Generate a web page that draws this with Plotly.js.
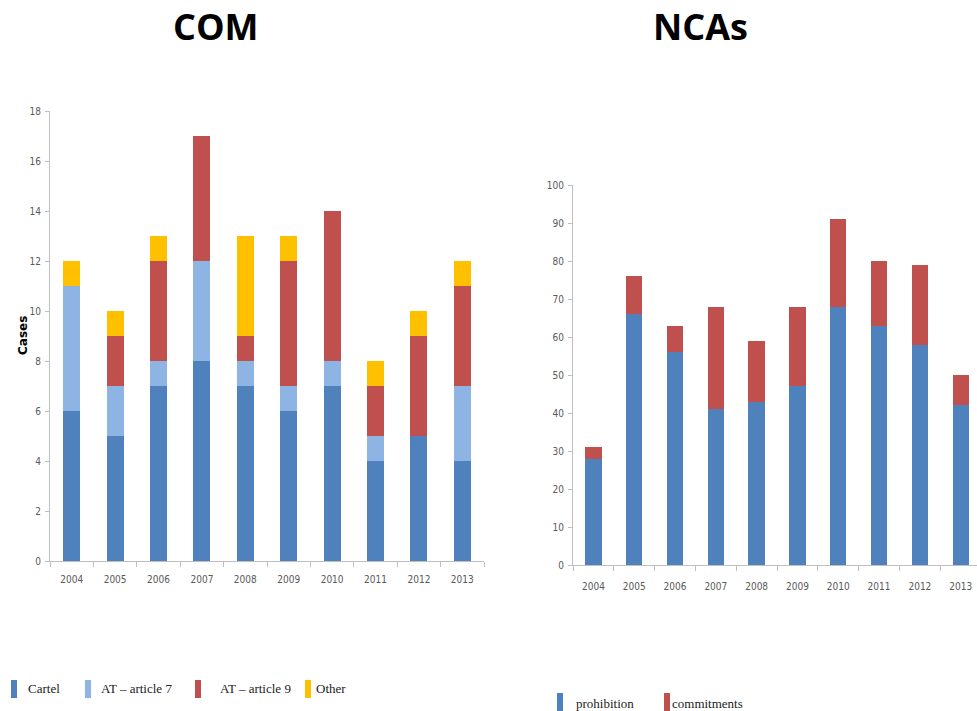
<!DOCTYPE html>
<html>
<head>
<meta charset="utf-8">
<script src="https://cdn.plot.ly/plotly-3.0.1.min.js"></script>
<style>
  html, body { margin: 0; padding: 0; background: #fff; }
  #chart { width: 977px; height: 711px; }
</style>
</head>
<body>
<div id="chart"></div>
<script>
// ---- Data ----
const years = ['2004', '2005', '2006', '2007', '2008', '2009', '2010', '2011', '2012', '2013'];

// COM (European Commission) cases
const comCartel = [6, 5, 7, 8, 7, 6, 7, 4, 5, 4];
const comArticle7 = [5, 2, 1, 4, 1, 1, 1, 1, 0, 3];
const comArticle9 = [0, 2, 4, 5, 1, 5, 6, 2, 4, 4];
const comOther = [1, 1, 1, 0, 4, 1, 0, 1, 1, 1];

// NCAs cases
const ncaProhibition = [28, 66, 56, 41, 43, 47, 68, 63, 58, 42];
const ncaCommitments = [3, 10, 7, 27, 16, 21, 23, 17, 21, 8];

const comTicks = [0, 2, 4, 6, 8, 10, 12, 14, 16, 18];
const ncaTicks = [0, 10, 20, 30, 40, 50, 60, 70, 80, 90, 100];

const comNames = ['Cartel', 'AT \u2013 article 7', 'AT \u2013 article 9', 'Other'];
const ncaNames = ['prohibition', 'commitments'];

// ---- Styling ----
const W = 977, H = 711;
const px = x => x / W;           // pixel -> paper x
const py = y => 1 - y / H;       // pixel -> paper y

const C_BLUE = '#4F81BD';
const C_LIGHT = '#8EB4E3';
const C_RED = '#C0504D';
const C_YELLOW = '#FFC000';

const tickFont = { family: '"Liberation Sans Narrow", "DejaVu Sans Condensed", Arial, sans-serif', size: 10, color: '#595959' };
const axisGrey = '#BFBFBF';

function bar(x, y, name, color, xa, ya, w) {
  return { type: 'bar', x: x, y: y, name: name, xaxis: xa, yaxis: ya,
           marker: { color: color, line: { width: 0 } }, width: w,
           showlegend: false, hoverinfo: 'x+y+name' };
}

const traces = [
  bar(years, comCartel, comNames[0], C_BLUE, 'x', 'y', 0.39),
  bar(years, comArticle7, comNames[1], C_LIGHT, 'x', 'y', 0.39),
  bar(years, comArticle9, comNames[2], C_RED, 'x', 'y', 0.39),
  bar(years, comOther, comNames[3], C_YELLOW, 'x', 'y', 0.39),
  bar(years, ncaProhibition, ncaNames[0], C_BLUE, 'x2', 'y2', 0.40),
  bar(years, ncaCommitments, ncaNames[1], C_RED, 'x2', 'y2', 0.40)
];

function xAxis(domain, range, anchor, standoff) {
  return {
    domain: domain, anchor: anchor, type: 'category', range: range,
    showline: true, linecolor: axisGrey, linewidth: 1,
    showgrid: false, zeroline: false,
    ticks: 'outside', tickson: 'boundaries', ticklen: 5, tickcolor: axisGrey,
    tickfont: tickFont, ticklabelstandoff: standoff, fixedrange: true
  };
}
function yAxis(domain, range, tickvals, anchor) {
  return {
    domain: domain, anchor: anchor, range: range,
    tickvals: tickvals, ticktext: tickvals.map(String),
    showline: true, linecolor: axisGrey, linewidth: 1,
    showgrid: false, zeroline: false,
    ticks: 'outside', ticklen: 4, tickcolor: axisGrey,
    tickfont: tickFont, ticklabelstandoff: 2, fixedrange: true
  };
}

const legendFont = { family: '"Liberation Serif", "Times New Roman", serif', size: 13, color: '#222' };

function swatch(x0, x1, y0, y1, color) {
  return { type: 'rect', xref: 'paper', yref: 'paper',
           x0: px(x0), x1: px(x1), y0: py(y1), y1: py(y0),
           fillcolor: color, line: { width: 0 } };
}
function label(x, y, text, font, anchor) {
  return { xref: 'paper', yref: 'paper', x: px(x), y: py(y), text: text,
           showarrow: false, xanchor: anchor || 'left', yanchor: 'middle', font: font };
}

const titleFont = { family: '"Open Sans", Lato, sans-serif', size: 36, color: '#000', weight: 700 };

const casesTitle = label(23, 336, '<b>Cases</b>', { family: '"DejaVu Sans", Verdana, sans-serif', size: 12, color: '#000' }, 'center');
casesTitle.textangle = -90;

const layout = {
  width: W, height: H,
  margin: { l: 0, r: 0, t: 0, b: 0, pad: 0 },
  paper_bgcolor: '#fff', plot_bgcolor: '#fff',
  barmode: 'stack',
  showlegend: false,
  xaxis: xAxis([px(50), px(484)], [-0.5, 9.5], 'y', 9),
  yaxis: yAxis([py(561), py(111)], [0, 18], comTicks, 'x'),
  xaxis2: xAxis([px(573), 1], [-0.5, 9.4], 'y2', 12),
  yaxis2: yAxis([py(565), py(185)], [0, 100], ncaTicks, 'x2'),
  shapes: [
    swatch(11, 17, 680, 698, C_BLUE),
    swatch(85, 91, 680, 698, C_LIGHT),
    swatch(195, 201, 680, 698, C_RED),
    swatch(305, 311, 680, 698, C_YELLOW),
    swatch(557, 563, 693, 711, C_BLUE),
    swatch(664, 670, 693, 711, C_RED)
  ],
  annotations: [
    label(216, 27, 'COM', titleFont, 'center'),
    label(700, 27, 'NCAs', titleFont, 'center'),
    casesTitle,
    label(26, 688, comNames[0], legendFont),
    label(99, 688, comNames[1], legendFont),
    label(218, 688, comNames[2], legendFont),
    label(314, 688, comNames[3], legendFont),
    label(574, 703, ncaNames[0], legendFont),
    label(670, 703, ncaNames[1], legendFont)
  ]
};

Plotly.newPlot('chart', traces, layout, { displayModeBar: false, staticPlot: true });
</script>
</body>
</html>
